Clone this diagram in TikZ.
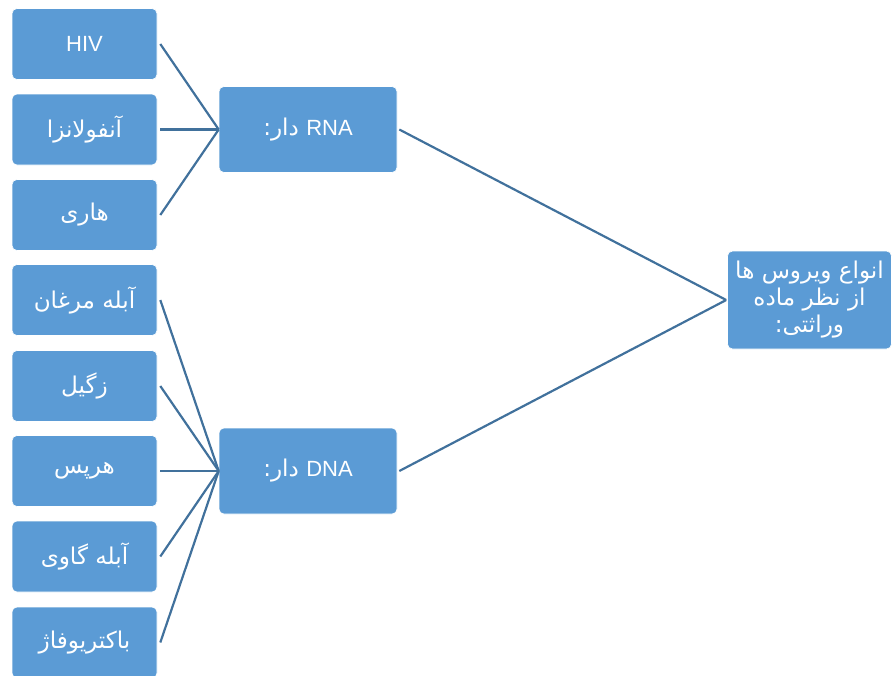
\documentclass[tikz,border=0pt]{standalone}
\usepackage{fontspec}
\setmainfont{Liberation Sans}
\newfontfamily\arabicfont[Script=Arabic,Scale=1.05]{DejaVu Sans}
\TeXXeTstate=1
\definecolor{boxblue}{HTML}{5B9BD5}
\definecolor{lineblue}{HTML}{41719C}
\begin{document}
\begin{tikzpicture}[x=1pt,y=-1pt,
  vbox/.style={fill=boxblue, draw=white, line width=0.6pt, rounded corners=5pt,
    text=white, inner sep=0pt, font=\fontsize{22}{27}\selectfont},
  leafbox/.style={vbox, minimum width=145pt, minimum height=71pt},
  midbox/.style={vbox, minimum width=178pt, minimum height=86pt},
  link/.style={draw=lineblue, line width=2.2pt}]
\useasboundingbox (0,0) rectangle (893,675);
\clip (0,0) rectangle (893,675);
% leaves
\node[leafbox] (hiv) at (84.5,44) {HIV};
\node[leafbox] (flu) at (84.5,129.5) {\arabicfont\beginR آنفولانزا\endR};
\node[leafbox] (rab) at (84.5,215) {\arabicfont\beginR هاری\endR};
\node[leafbox] (chk) at (84.5,300) {\arabicfont\beginR آبله مرغان\endR};
\node[leafbox] (wrt) at (84.5,386) {\arabicfont\beginR زگیل\endR};
\node[leafbox] (hrp) at (84.5,471) {\arabicfont\beginR هرپس\endR};
\node[leafbox] (cow) at (84.5,556.5) {\arabicfont\beginR آبله گاوی\endR};
\node[leafbox] (phg) at (84.5,642.5) {\arabicfont\beginR باکتریوفاژ\endR};
% middle
\node[midbox] (rna) at (308,129.5) {\arabicfont\beginR\beginL{\rmfamily RNA}\endL{} دار:\endR};
\node[midbox] (dna) at (308,471) {\arabicfont\beginR\beginL{\rmfamily DNA}\endL{} دار:\endR};
% root
\node[vbox, minimum width=164pt, minimum height=98pt, align=center,
  font=\fontsize{22}{27}\selectfont] (root) at (809.5,300)
  {\arabicfont\beginR انواع ویروس ها\endR\\\arabicfont\beginR از نظر ماده\endR\\\arabicfont\beginR وراثتی:\endR};
% links
\foreach \n in {hiv,flu,rab}
  \draw[link] ([xshift=3pt]\n.east) -- (rna.west);
\foreach \n in {chk,wrt,hrp,cow,phg}
  \draw[link] ([xshift=3pt]\n.east) -- (dna.west);
\draw[link] ([xshift=2pt]rna.east) -- ([xshift=-1pt]root.west);
\draw[link] ([xshift=2pt]dna.east) -- ([xshift=-1pt]root.west);
\end{tikzpicture}
\end{document}
